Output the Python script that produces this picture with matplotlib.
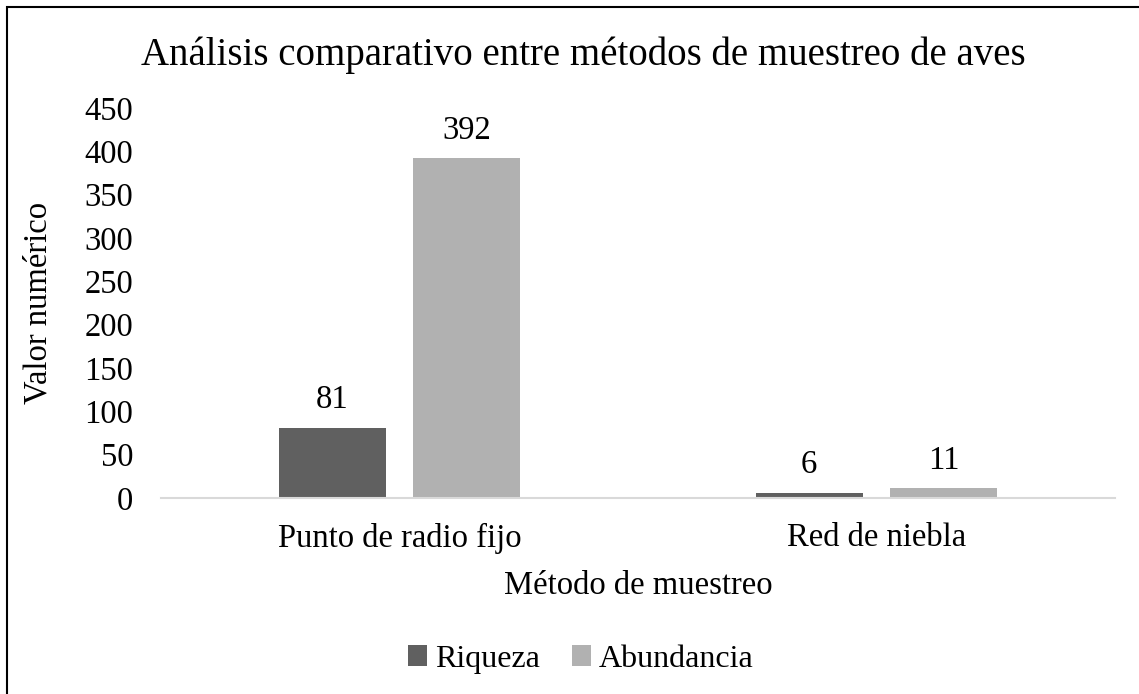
import matplotlib.pyplot as plt
import numpy as np
from matplotlib.patches import Rectangle

plt.rcParams['font.family'] = ['Liberation Serif', 'DejaVu Serif']

metodos = ['Punto de radio fijo', 'Red de niebla']
riqueza = [81, 6]
abundancia = [392, 11]

fs = 23.5

fig = plt.figure(figsize=(11.39, 6.94), dpi=100)
ax = fig.add_axes([161 / 1139, 196 / 694, 954 / 1139, 390 / 694])

x = np.arange(len(metodos))
ancho = 0.224
desp = 0.141
b1 = ax.bar(x - desp, riqueza, ancho, color='#606060', label='Riqueza')
b2 = ax.bar(x + desp, abundancia, ancho, color='#b1b1b1', label='Abundancia')

for barras in (b1, b2):
    for b in barras:
        ax.annotate(f'{int(b.get_height())}', (b.get_x() + b.get_width() / 2, b.get_height()),
                    xytext=(0, 9), textcoords='offset points', ha='center', va='bottom', fontsize=fs)

ax.set_xlim(-0.5, 1.5)
ax.set_ylim(0, 450)
ax.set_yticks(range(0, 451, 50))
ax.set_xticks(x)
ax.set_xticklabels(metodos)
ax.tick_params(axis='y', length=0, labelsize=fs, pad=20)
ax.tick_params(axis='x', length=0, labelsize=fs, pad=18)
for s in ['top', 'right', 'left']:
    ax.spines[s].set_visible(False)
ax.spines['bottom'].set_color('#d9d9d9')
ax.spines['bottom'].set_linewidth(1.5)

ax.set_xlabel('Método de muestreo', fontsize=fs, labelpad=12)
ax.set_ylabel('Valor numérico', fontsize=fs, labelpad=22)
fig.text(0.512, 0.92, 'Análisis comparativo entre métodos de muestreo de aves',
         ha='center', va='center', fontsize=28)

fig.legend(loc='center', bbox_to_anchor=(0.51, 0.05), ncol=2, frameon=False, fontsize=23,
           handlelength=0.6, handleheight=0.6, handletextpad=0.25, columnspacing=1.0)

fig.add_artist(Rectangle((7 / 1139, -0.1), 1.5, 1.1 - 7 / 694, transform=fig.transFigure,
                         fill=False, edgecolor='black', linewidth=1.5))

fig.savefig('out.png', dpi=100)
